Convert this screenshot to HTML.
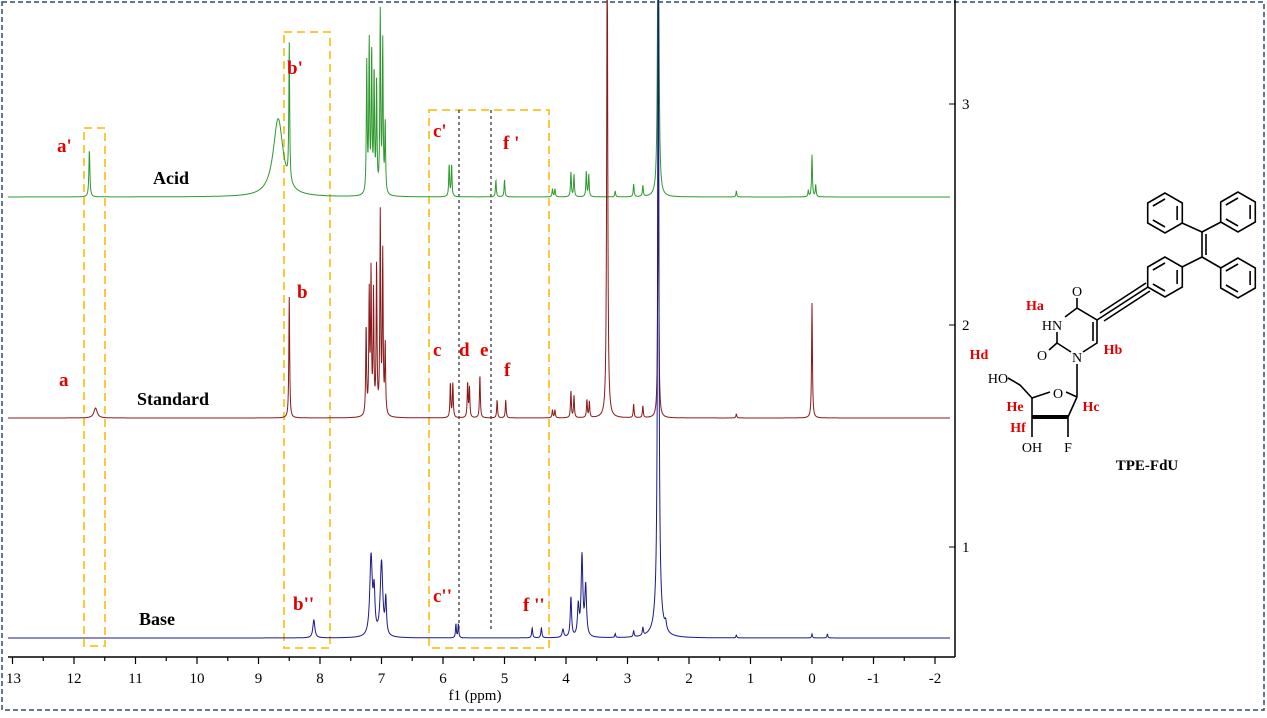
<!DOCTYPE html><html><head><meta charset="utf-8"><style>
body{margin:0;background:#fff}
svg text{font-family:"Liberation Serif",serif}
.r{fill:#e00000;font-weight:bold;font-size:19px}
.k{fill:#000;font-weight:bold;font-size:18px}
.t{font-size:15px;fill:#000}
.s{font-family:"Liberation Sans",sans-serif;font-size:14px;fill:#000}
.h{fill:#e00000;font-weight:bold;font-size:14px}
</style></head><body>
<svg id="c" width="1267" height="713" viewBox="0 0 1267 713" xmlns="http://www.w3.org/2000/svg">
<rect x="2" y="2" width="1262" height="708" fill="none" stroke="#2e4a6b" stroke-width="1.5" stroke-dasharray="5,3"/>
<g fill="none" stroke="#fcc93e" stroke-width="2" stroke-dasharray="8,5">
<rect x="84" y="128" width="21" height="518"/>
<rect x="284" y="32" width="46" height="616"/>
<rect x="429" y="110" width="120" height="538"/>
</g>
<g stroke="#000" stroke-width="1" stroke-dasharray="3,3">
<line x1="459" y1="110" x2="459" y2="632"/><line x1="491" y1="110" x2="491" y2="632"/>
</g>
<g id="sp"></g>
<line x1="8" y1="657" x2="955" y2="657" stroke="#000" stroke-width="1.5"/>
<line x1="955" y1="0" x2="955" y2="657" stroke="#000" stroke-width="1.5"/>
<g id="ax" stroke="#000" stroke-width="1.2"></g>
<g class="t" text-anchor="middle" id="lb"></g>
<text x="475" y="700" class="t" text-anchor="middle">f1 (ppm)</text>
<text x="962" y="109" class="t">3</text><text x="962" y="330" class="t">2</text><text x="962" y="552" class="t">1</text>
<line x1="955" y1="104" x2="949" y2="104" stroke="#000"/><line x1="955" y1="325" x2="949" y2="325" stroke="#000"/><line x1="955" y1="547" x2="949" y2="547" stroke="#000"/>
<text x="57" y="152" class="r">a'</text><text x="287" y="74" class="r">b'</text>
<text x="433" y="137" class="r">c'</text><text x="503" y="149" class="r">f '</text>
<text x="153" y="184" class="k">Acid</text>
<text x="297" y="298" class="r">b</text><text x="59" y="386" class="r">a</text>
<text x="433" y="356" class="r">c</text><text x="459" y="356" class="r">d</text><text x="480" y="356" class="r">e</text><text x="504" y="376" class="r">f</text>
<text x="137" y="405" class="k">Standard</text>
<text x="139" y="625" class="k">Base</text>
<text x="293" y="610" class="r">b''</text><text x="433" y="602" class="r">c''</text><text x="523" y="611" class="r">f ''</text>
<g stroke="#000" stroke-width="1.6" fill="none">
<g id="rings"></g>
<line x1="1202" y1="232" x2="1202" y2="257"/><line x1="1206" y1="234" x2="1206" y2="255"/>
<line x1="1202" y1="232" x2="1182" y2="223"/><line x1="1202" y1="232" x2="1221" y2="222"/>
<line x1="1202" y1="257" x2="1182" y2="267"/><line x1="1202" y1="257" x2="1221" y2="268"/>
<line x1="1148" y1="287" x2="1097" y2="320"/><line x1="1146" y1="283" x2="1100" y2="313"/><line x1="1150" y1="291" x2="1104" y2="321"/>
<polyline points="1077,298 1077,308 1097,320 1097,343 1083,352"/>
<line x1="1093" y1="322" x2="1093" y2="341"/>
<polyline points="1071,352 1057,343 1057,332"/>
<line x1="1065" y1="317" x2="1077" y2="308"/>
<line x1="1057" y1="343" x2="1049" y2="350"/>
<line x1="1077" y1="364" x2="1077" y2="397"/>
<polyline points="1077,397 1066,392"/><polyline points="1050,392 1032,398 1020,385 1008,378"/>
<line x1="1032" y1="398" x2="1032" y2="417"/><line x1="1077" y1="397" x2="1068" y2="417"/>
<line x1="1032" y1="417" x2="1068" y2="417" stroke-width="4"/>
<line x1="1032" y1="417" x2="1032" y2="437"/><line x1="1068" y1="417" x2="1068" y2="437"/>
</g>
<g class="s" text-anchor="middle">
<text x="1077" y="296">O</text><text x="1052" y="330">HN</text><text x="1042" y="360">O</text><text x="1077" y="362">N</text>
<text x="1058" y="398">O</text><text x="998" y="383">HO</text><text x="1032" y="452">OH</text><text x="1068" y="452">F</text>
</g>
<text x="1035" y="310" class="h" text-anchor="middle">Ha</text><text x="979" y="359" class="h" text-anchor="middle">Hd</text>
<text x="1113" y="354" class="h" text-anchor="middle">Hb</text><text x="1015" y="411" class="h" text-anchor="middle">He</text>
<text x="1091" y="411" class="h" text-anchor="middle">Hc</text><text x="1018" y="432" class="h" text-anchor="middle">Hf</text>
<text x="1147" y="470" text-anchor="middle" style="font-weight:bold;font-size:15px">TPE-FdU</text>
</svg>
<script>
var NS="http://www.w3.org/2000/svg";
function X(p){return 812-61.5*p;}
var ax=document.getElementById('ax'),lb=document.getElementById('lb');
for(var p=13;p>=-2;p-=0.5){var x=X(p),l=document.createElementNS(NS,'line');
l.setAttribute('x1',x);l.setAttribute('x2',x);l.setAttribute('y1',657);l.setAttribute('y2',p%1==0?664:661);ax.appendChild(l);
if(p%1==0){var t=document.createElementNS(NS,'text');t.setAttribute('x',x+(p==13?1:0));t.setAttribute('y',683);t.textContent=p;lb.appendChild(t);}}
var rg=document.getElementById('rings');
[[1165,213],[1238,212],[1165,277],[1238,278]].forEach(function(c){var pts=[],r=20;
for(var i=0;i<6;i++){var a=Math.PI/180*(90+60*i);pts.push((c[0]+r*Math.cos(a)).toFixed(1)+','+(c[1]-r*Math.sin(a)).toFixed(1));}
var pg=document.createElementNS(NS,'polygon');pg.setAttribute('points',pts.join(' '));rg.appendChild(pg);
for(var i=0;i<6;i+=2){var a1=Math.PI/180*(90+60*i),a2=Math.PI/180*(150+60*i),q=14,l=document.createElementNS(NS,'line');
l.setAttribute('x1',c[0]+q*Math.cos(a1));l.setAttribute('y1',c[1]-q*Math.sin(a1));l.setAttribute('x2',c[0]+q*Math.cos(a2));l.setAttribute('y2',c[1]-q*Math.sin(a2));rg.appendChild(l);}});
function spec(base,col,pk){var d='';for(var x=8;x<=950;x+=0.25){var y=base;
for(var i=0;i<pk.length;i++){var u=(x-X(pk[i][0]))/pk[i][2];y-=pk[i][1]/(1+u*u);}
if(y<-5)y=-5;d+=(x==8?'M':'L')+x.toFixed(2)+','+y.toFixed(1);}
var p=document.createElementNS(NS,'path');p.setAttribute('d',d);p.setAttribute('fill','none');p.setAttribute('stroke',col);p.setAttribute('stroke-width','1');document.getElementById('sp').appendChild(p);}
spec(197,'#2e9a2e',[[11.75,47,0.6],[8.68,78,6],[8.5,137,0.5],[7.24,130,0.5],[7.2,150,0.5],[7.16,140,0.5],[7.12,120,0.5],[7.08,110,0.5],[7.02,180,0.5],[6.98,150,0.5],[6.94,70,0.5],
[5.9,32,0.5],[5.86,32,0.5],[5.14,17,0.5],[5.0,17,0.5],[4.22,8,0.5],[4.18,8,0.5],[3.92,25,0.5],[3.87,22,0.5],[3.67,25,0.5],[3.63,22,0.5],[3.2,6,0.5],[2.9,13,0.5],[2.75,11,0.5],[2.5,400,0.7],[1.23,6,0.5],[0,42,0.5],[-0.06,12,0.5],[0.06,6,0.5]]);
spec(418,'#8b1a1a',[[11.65,10,2],[8.5,121,0.5],[7.25,90,0.5],[7.2,120,0.5],[7.17,140,0.5],[7.13,120,0.5],[7.08,150,0.5],[7.02,200,0.5],[6.98,160,0.5],[6.94,70,0.5],
[5.88,35,0.5],[5.84,35,0.5],[5.6,35,0.5],[5.57,30,0.5],[5.4,43,0.5],[5.12,18,0.5],[4.98,18,0.5],[4.22,8,0.5],[4.18,8,0.5],[3.92,27,0.5],[3.87,22,0.5],[3.66,18,0.5],[3.62,16,0.5],[3.33,500,0.6],[2.9,14,0.5],[2.75,12,0.5],[2.5,330,0.5],[1.23,4,0.5],[0,115,0.5]]);
spec(638,'#1a1a8b',[[8.1,18,1.2],[7.17,80,1.5],[7.12,40,1],[7.0,75,1.5],[6.93,35,0.8],[5.79,14,0.5],[5.75,14,0.5],[4.55,10,0.6],[4.4,10,0.6],[4.05,8,1],[3.92,40,0.8],[3.8,30,1],[3.74,80,1],[3.68,50,1],[3.2,4,0.5],[2.9,6,0.6],[2.75,8,0.6],[2.5,700,0.7],[2.5,25,4],[2.38,8,1],[1.23,3,0.5],[0,4,0.5],[-0.25,4,0.5]]);
</script>
</body></html>
